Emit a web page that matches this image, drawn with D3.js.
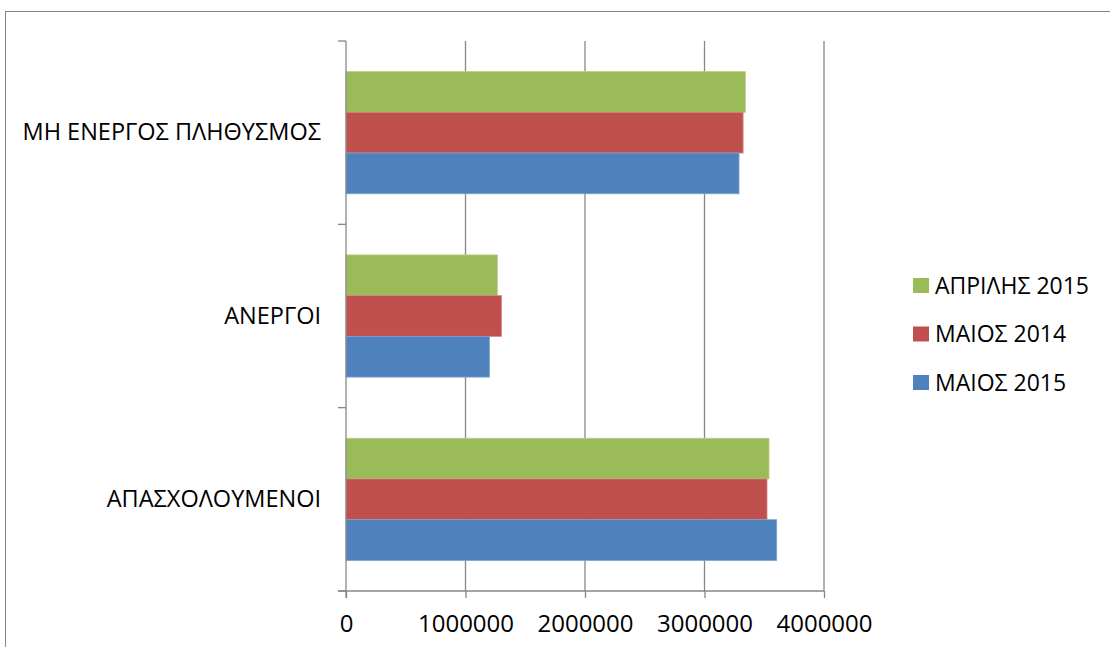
<!DOCTYPE html>
<html>
<head>
<meta charset="utf-8">
<script src="https://cdn.jsdelivr.net/npm/d3@7"></script>
<style>
  html, body { margin: 0; padding: 0; background: #fff; }
  svg { display: block; }
  text { font-family: "Open Sans", "Noto Sans", sans-serif; fill: #000; }
</style>
</head>
<body>
<svg id="chart" width="1110" height="647"></svg>
<script>
// Population groups (top to bottom)
const categories = ["ΜΗ ΕΝΕΡΓΟΣ ΠΛΗΘΥΣΜΟΣ", "ΑΝΕΡΓΟΙ", "ΑΠΑΣΧΟΛΟΥΜΕΝΟΙ"];
// Periods, in bar order within each group (top to bottom)
const seriesNames = ["ΑΠΡΙΛΗΣ 2015", "ΜΑΙΟΣ 2014", "ΜΑΙΟΣ 2015"];
const april2015 = [3342000, 1267000, 3540000];
const may2014   = [3323000, 1301000, 3523000];
const may2015   = [3289000, 1200000, 3604000];
const xTicks = [0, 1000000, 2000000, 3000000, 4000000];
const colors = ["#9BBB59", "#C0504D", "#4F81BD"];
const edgeColors = ["#b9d08a", "#d78482", "#7ea3d2"];

const seriesValues = [april2015, may2014, may2015];

const svg = d3.select("#chart");
const plot = { left: 346, right: 824, top: 41, bottom: 591 };
const labelSize = 23.5;
const tickSize = 24;
const legendSize = 23;

// Outer chart frame
svg.append("rect")
  .attr("x", 5.5).attr("y", 11.5)
  .attr("width", 1200).attr("height", 700)
  .attr("fill", "none").attr("stroke", "#868686").attr("stroke-width", 1);

const x = d3.scaleLinear().domain([0, 4000000]).range([plot.left, plot.right]);
const y = d3.scaleBand().domain(categories).range([plot.top, plot.bottom]).padding(0);
const ySub = d3.scaleBand().domain(seriesNames).range([0, y.bandwidth()])
  .paddingInner(0).paddingOuter(0.75);

const gridColor = "#878787";

// Vertical gridlines
svg.append("g").selectAll("line")
  .data(xTicks.slice(1))
  .join("line")
  .attr("x1", d => x(d)).attr("x2", d => x(d))
  .attr("y1", plot.top).attr("y2", plot.bottom)
  .attr("stroke", gridColor).attr("stroke-width", 1.3);

// Bars
const groups = svg.append("g").selectAll("g")
  .data(categories)
  .join("g")
  .attr("transform", c => `translate(0,${y(c)})`);

groups.selectAll("rect")
  .data((c, ci) => seriesNames.map((s, si) => ({ s, si, v: seriesValues[si][ci] })))
  .join("rect")
  .attr("x", x(0))
  .attr("y", d => ySub(d.s))
  .attr("width", d => x(d.v) - x(0))
  .attr("height", ySub.bandwidth())
  .attr("fill", d => colors[d.si])
  .attr("stroke", d => edgeColors[d.si])
  .attr("stroke-width", 0.8);

// Bottom axis
const xAxis = d3.axisBottom(x).tickValues(xTicks).tickSize(7).tickFormat(d3.format("d"));
const gx = svg.append("g").attr("transform", `translate(0,${plot.bottom})`).call(xAxis);
gx.select(".domain").remove();
gx.append("line")
  .attr("x1", plot.left - 8).attr("x2", plot.right)
  .attr("stroke", gridColor).attr("stroke-width", 1.3);
gx.selectAll(".tick line").attr("stroke", gridColor).attr("stroke-width", 1.3);
gx.selectAll(".tick text")
  .attr("y", 41).attr("dy", null)
  .style("font-size", tickSize + "px")
  .style("font-family", '"Open Sans", "Noto Sans", sans-serif')
  .attr("fill", "#000");

// Left axis with ticks at the category boundaries
const boundaries = categories.map(c => y(c)).concat([plot.bottom]);
const gy = svg.append("g");
gy.append("line")
  .attr("x1", plot.left).attr("x2", plot.left)
  .attr("y1", plot.top).attr("y2", plot.bottom + 7)
  .attr("stroke", gridColor).attr("stroke-width", 1.3);
gy.selectAll("line.tk")
  .data(boundaries)
  .join("line").attr("class", "tk")
  .attr("x1", plot.left - 8).attr("x2", plot.left)
  .attr("y1", d => d).attr("y2", d => d)
  .attr("stroke", gridColor).attr("stroke-width", 1.3);

// Category labels
svg.append("g").selectAll("text")
  .data(categories)
  .join("text")
  .attr("x", 321)
  .attr("y", c => y(c) + y.bandwidth() / 2)
  .attr("dy", "0.33em")
  .attr("text-anchor", "end")
  .style("font-size", labelSize + "px")
  .text(c => c);

// Legend
const legendRows = [285.5, 334, 382.5];
const legend = svg.append("g").selectAll("g")
  .data(seriesNames)
  .join("g")
  .attr("transform", (s, i) => `translate(913,${legendRows[i]})`);
legend.append("rect")
  .attr("x", 0).attr("y", -7.5)
  .attr("width", 16).attr("height", 15)
  .attr("fill", (s, i) => colors[i]);
legend.append("text")
  .attr("x", 22).attr("y", 0).attr("dy", "0.35em")
  .style("font-size", legendSize + "px")
  .text(s => s);
</script>
</body>
</html>
